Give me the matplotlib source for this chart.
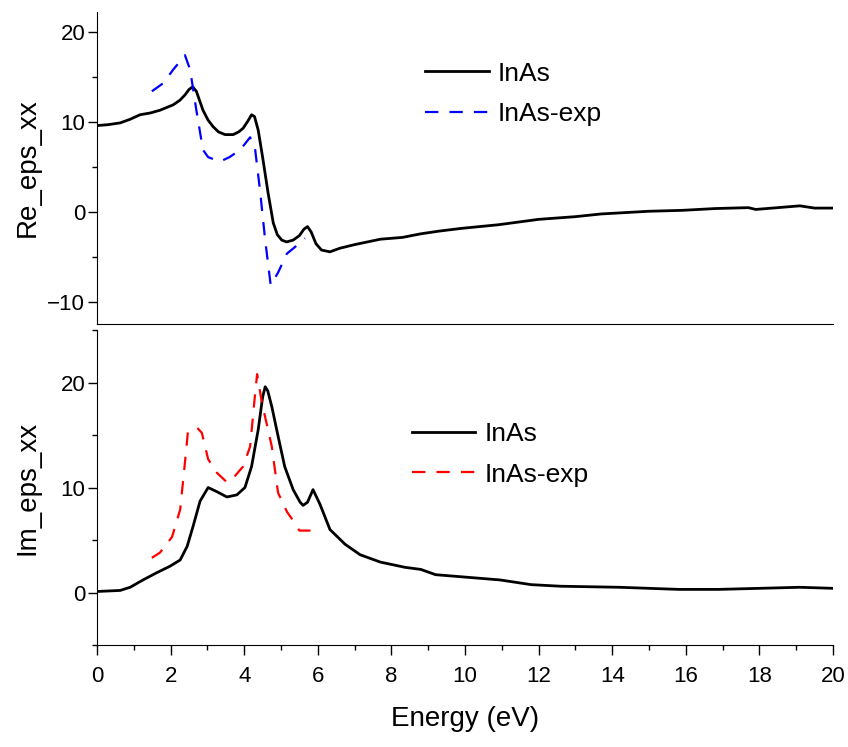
# dielectric function of InAs, real and imaginary part vs photon energy
# calculated curve (solid) against experiment (dashed)

import matplotlib.pyplot as plt
from matplotlib.ticker import MultipleLocator

plt.rcParams['font.family'] = ['Liberation Sans', 'DejaVu Sans']

# real part, calculated
re_energy = [0.0, 0.3, 0.63, 0.9, 1.17, 1.45, 1.71, 2.07, 2.25, 2.39, 2.5, 2.6, 2.7, 2.88,
             3.02, 3.15, 3.3, 3.48, 3.7, 3.85, 3.97, 4.1, 4.2, 4.28, 4.38, 4.5, 4.65, 4.79,
             4.9, 5.02, 5.15, 5.33, 5.5, 5.62, 5.72, 5.82, 5.95, 6.1, 6.33, 6.6, 7.0, 7.7,
             8.3, 8.8, 9.3, 9.9, 10.9, 12.0, 13.0, 13.7, 15.0, 15.9, 16.8, 17.7, 17.9,
             18.5, 19.1, 19.5, 20.0]
re_calc = [9.6, 9.7, 9.9, 10.3, 10.8, 11.0, 11.3, 11.9, 12.4, 13.0, 13.6, 13.9, 13.4, 11.3,
           10.2, 9.5, 8.9, 8.6, 8.6, 8.9, 9.3, 10.1, 10.8, 10.6, 9.1, 6.1, 2.1, -1.2,
           -2.5, -3.1, -3.3, -3.1, -2.6, -1.9, -1.6, -2.2, -3.5, -4.2, -4.4, -4.0, -3.6, -3.0,
           -2.8, -2.4, -2.1, -1.8, -1.4, -0.8, -0.5, -0.2, 0.1, 0.2, 0.4, 0.5, 0.3,
           0.5, 0.7, 0.45, 0.45]

# real part, experiment
re_exp_energy = [1.49, 1.8, 2.07, 2.39, 2.53, 2.7, 2.88, 3.02, 3.34, 3.6, 3.89, 4.16, 4.29,
                 4.43, 4.57, 4.72, 4.92, 5.16, 5.4, 5.65]
re_exp = [13.4, 14.3, 15.8, 17.4, 15.8, 11.3, 6.9, 6.1, 5.6, 6.1, 6.9, 8.3, 7.2,
          2.4, -3.1, -8.1, -6.7, -4.6, -3.8, -2.9]

# imaginary part, calculated
im_energy = [0.0, 0.63, 0.9, 1.25, 1.63, 1.98, 2.26, 2.45, 2.61, 2.8, 3.02, 3.26, 3.53, 3.8,
             4.02, 4.2, 4.38, 4.5, 4.57, 4.64, 4.75, 4.92, 5.1, 5.33, 5.52, 5.6, 5.72, 5.87,
             6.06, 6.33, 6.74, 7.15, 7.7, 8.37, 8.8, 9.2, 9.9, 10.95, 11.8, 12.6, 14.2,
             15.8, 16.9, 18.0, 19.1, 20.0]
im_calc = [0.1, 0.2, 0.5, 1.2, 1.9, 2.5, 3.1, 4.4, 6.3, 8.7, 10.0, 9.6, 9.1, 9.3,
           10.0, 12.0, 15.5, 18.6, 19.6, 19.2, 17.7, 14.9, 12.0, 9.8, 8.6, 8.3, 8.6, 9.8,
           8.4, 6.0, 4.6, 3.6, 2.9, 2.4, 2.2, 1.7, 1.5, 1.2, 0.75, 0.6, 0.5,
           0.3, 0.3, 0.4, 0.5, 0.4]

# imaginary part, experiment
im_exp_energy = [1.49, 1.71, 2.04, 2.26, 2.39, 2.47, 2.72, 2.85, 3.02, 3.26, 3.53, 3.7, 3.97,
                 4.16, 4.29, 4.35, 4.48, 4.75, 4.92, 5.16, 5.3, 5.5, 5.9]
im_exp = [3.3, 3.8, 5.3, 7.9, 12.4, 15.3, 15.7, 15.2, 12.7, 11.4, 10.5, 10.9, 12.0,
          13.9, 18.7, 20.8, 18.1, 13.9, 9.5, 7.7, 7.0, 5.9, 5.9]

fig = plt.figure(figsize=(8.48, 7.47), dpi=100)
ax1 = fig.add_axes([0.1144, 0.5663, 0.8679, 0.4177])
ax2 = fig.add_axes([0.1144, 0.1365, 0.8679, 0.4217])

ax1.plot(re_energy, re_calc, color='black', lw=2, label='InAs')
ax1.plot(re_exp_energy, re_exp, color='#0000ff', lw=1.6, dashes=(6, 5), label='InAs-exp')
ax2.plot(im_energy, im_calc, color='black', lw=2, label='InAs')
ax2.plot(im_exp_energy, im_exp, color='#ff0000', lw=1.6, dashes=(6, 5), label='InAs-exp')

ax1.set_xlim(0, 20)
ax1.set_ylim(-12.4, 22.2)
ax2.set_xlim(0, 20)
ax2.set_ylim(-5, 25)

for ax in (ax1, ax2):
    ax.spines['top'].set_visible(False)
    ax.spines['right'].set_visible(False)
    ax.yaxis.set_major_locator(MultipleLocator(10))
    ax.yaxis.set_minor_locator(MultipleLocator(5))
    ax.tick_params(axis='y', which='major', length=6.5, width=1, labelsize=16, pad=2)
    ax.tick_params(axis='y', which='minor', length=3.5, width=1)

ax1.tick_params(axis='x', which='both', bottom=False, labelbottom=False)
ax2.xaxis.set_major_locator(MultipleLocator(2))
ax2.xaxis.set_minor_locator(MultipleLocator(1))
ax2.tick_params(axis='x', which='major', length=7, width=1, labelsize=16, pad=8)
ax2.tick_params(axis='x', which='minor', length=3.5, width=1)

ax1.set_ylabel('Re_eps_xx', fontsize=20)
ax2.set_ylabel('Im_eps_xx', fontsize=20)
ax1.yaxis.set_label_coords(-0.077, 0.5)
ax2.yaxis.set_label_coords(-0.077, 0.5)
ax2.set_xlabel('Energy (eV)', fontsize=20, labelpad=14)

ax1.legend(loc='upper left', bbox_to_anchor=(0.446, 0.841), frameon=False, fontsize=19,
           handlelength=2.4, handletextpad=0.35, labelspacing=0.62, borderpad=0, borderaxespad=0)
ax2.legend(loc='upper left', bbox_to_anchor=(0.428, 0.707), frameon=False, fontsize=19,
           handlelength=2.4, handletextpad=0.35, labelspacing=0.62, borderpad=0, borderaxespad=0)

plt.savefig('out.png')
